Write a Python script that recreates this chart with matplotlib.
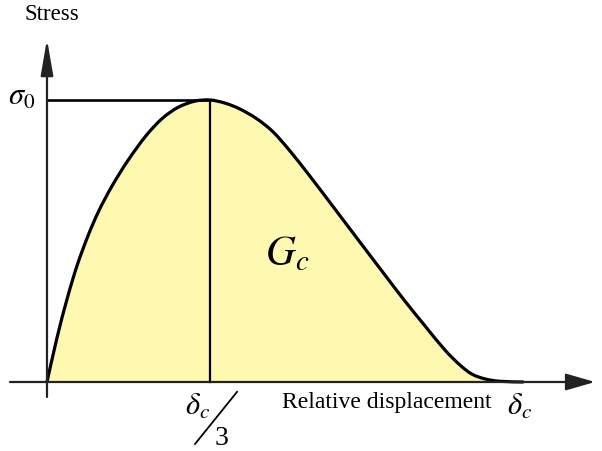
import matplotlib
matplotlib.use("Agg")
import matplotlib.pyplot as plt
from matplotlib.path import Path
from matplotlib.patches import PathPatch
import numpy as np

plt.rcParams['mathtext.fontset'] = 'stix'
plt.rcParams['font.family'] = ['Liberation Serif', 'DejaVu Serif']

# Traction-separation curve (displacement in units of delta_c/3, stress in units of sigma_0)
displacement = [0.0, 0.061, 0.123, 0.184, 0.252, 0.319, 0.399, 0.497, 0.607, 0.706, 0.804,
                0.908, 1.0,
                1.092, 1.184, 1.288, 1.387, 1.491, 1.613, 1.767, 1.920, 2.074, 2.196, 2.319,
                2.442, 2.534, 2.607, 2.687, 2.779, 2.920]
stress = [0.0, 0.156, 0.294, 0.412, 0.519, 0.608, 0.695, 0.786, 0.873, 0.934, 0.974,
          0.996, 1.0,
          0.989, 0.968, 0.933, 0.887, 0.819, 0.730, 0.613, 0.496, 0.379, 0.287, 0.199,
          0.113, 0.060, 0.028, 0.011, 0.0025, 0.0]
peak_disp = 1.0
peak_stress = 1.0


def smooth_path(xs, ys, close=False):
    """Catmull-Rom style cubic Bezier path through the given points."""
    pts = np.column_stack([xs, ys])
    n = len(pts)
    verts = [pts[0]]
    codes = [Path.MOVETO]
    for i in range(n - 1):
        p0 = pts[i - 1] if i > 0 else pts[i]
        p1 = pts[i]
        p2 = pts[i + 1]
        p3 = pts[i + 2] if i + 2 < n else pts[i + 1]
        c1 = p1 + (p2 - p0) / 6.0
        c2 = p2 - (p3 - p1) / 6.0
        verts += [c1, c2, p2]
        codes += [Path.CURVE4] * 3
    if close:
        verts += [pts[0], pts[0]]
        codes += [Path.LINETO, Path.CLOSEPOLY]
    return Path(verts, codes)


fig = plt.figure(figsize=(6.02, 4.52), dpi=100)
ax = fig.add_axes([0, 0, 1, 1])
ax.set_xlim(-0.2883, 3.405)
ax.set_ylim(-0.2447, 1.3582)
ax.axis('off')

ax.add_patch(PathPatch(smooth_path(displacement, stress, close=True),
                       facecolor='#FFF8B0', edgecolor='none', lw=0, zorder=1))
ax.add_patch(PathPatch(smooth_path(displacement, stress), facecolor='none',
                       edgecolor='black', lw=2.3, capstyle='round', zorder=3))

# guide lines at the peak
ax.plot([0, peak_disp], [peak_stress, peak_stress], color='black', lw=1.9, zorder=2)
ax.plot([peak_disp, peak_disp], [0, peak_stress], color='black', lw=1.6, zorder=2)

# axes with arrows
axis_col = '#222222'
ax.annotate('', xy=(3.362, 0), xytext=(-0.227, 0),
            arrowprops=dict(arrowstyle='-|>,head_length=0.9,head_width=0.26',
                            mutation_scale=20, lw=1.6, color=axis_col,
                            shrinkA=0, shrinkB=0), zorder=4)
ax.annotate('', xy=(0, 1.216), xytext=(0, -0.053),
            arrowprops=dict(arrowstyle='-|>,head_length=1.1,head_width=0.19',
                            mutation_scale=20, lw=1.6, color=axis_col,
                            shrinkA=0, shrinkB=0), zorder=4)

# labels
ax.text(-0.135, 1.287, 'Stress', fontsize=16.5, ha='left', va='baseline')
ax.text(1.442, -0.089, 'Relative displacement', fontsize=17, ha='left', va='baseline')
ax.text(-0.239, 0.986, r'$\sigma_0$', fontsize=22, ha='left', va='baseline')
ax.text(2.822, -0.113, r'$\delta_c$', fontsize=22, ha='left', va='baseline')
ax.text(0.847, -0.113, r'$\delta_c$', fontsize=22, ha='left', va='baseline')
ax.text(1.031, -0.220, '3', fontsize=20, ha='left', va='baseline')
ax.plot([0.908, 1.166], [-0.220, -0.035], color='black', lw=1.3)
ax.text(1.337, 0.418, r'$G_c$', fontsize=30, ha='left', va='baseline')

fig.savefig('out.png', dpi=100)
